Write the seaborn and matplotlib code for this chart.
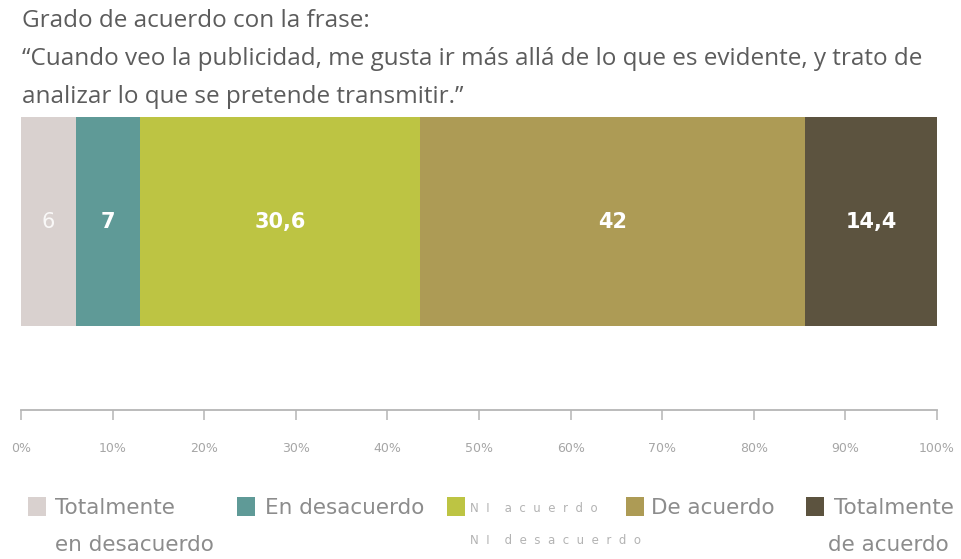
import matplotlib
matplotlib.use("Agg")
import matplotlib.pyplot as plt
from matplotlib.patches import Rectangle
import numpy as np
import pandas as pd
import seaborn as sns

# Survey answers (percent of respondents)
categories = ["Totalmente en desacuerdo", "En desacuerdo", "Ni acuerdo Ni desacuerdo",
              "De acuerdo", "Totalmente de acuerdo"]
values = [6, 7, 30.6, 42, 14.4]
value_labels = ["6", "7", "30,6", "42", "14,4"]
colors = ["#d9d1cf", "#5f9a97", "#bdc443", "#ad9b55", "#5c533f"]
tick_values = list(range(0, 101, 10))
tick_labels = [f"{t}%" for t in tick_values]

sns.set_theme(style="white")
plt.rcParams["font.family"] = ["Open Sans", "DejaVu Sans"]

W, H = 961, 559
fig = plt.figure(figsize=(W / 100, H / 100), dpi=100)
fig.patch.set_facecolor("white")

def fx(px):
    return px / W

def fy(py):
    return 1 - py / H

ax = fig.add_axes([fx(21), fy(410), fx(937) - fx(21), fy(117) - fy(410)])

df = pd.DataFrame({"cat": categories, "value": values})
df["cum"] = df["value"].cumsum()
df["start"] = df["cum"] - df["value"]
df["row"] = "frase"

# Stacked bar: draw cumulative totals from the longest to the shortest
for i in reversed(range(len(df))):
    sns.barplot(data=df.iloc[[i]], x="cum", y="row", color=colors[i], width=0.8,
                saturation=1, linewidth=0, orient="h", ax=ax)

bar_fonts = ["DejaVu Sans"]
for i, r in df.iterrows():
    ax.text(r["start"] + r["value"] / 2, 0, value_labels[i], ha="center", va="center",
            color="white", fontsize=15, fontweight="normal" if i == 0 else "bold",
            family=bar_fonts, alpha=0.85 if i == 0 else 1)

ax.set_xlim(0, 100)
ax.set_ylim(0.7215, -0.4)
ax.set_xticks(tick_values)
ax.set_xticklabels(tick_labels, family=["DejaVu Sans"], fontsize=9, color="#a6a6a6")
ax.set_yticks([])
ax.set_xlabel("")
ax.set_ylabel("")
for side in ["top", "right", "left"]:
    ax.spines[side].set_visible(False)
ax.spines["bottom"].set_color("#b5b5b5")
ax.spines["bottom"].set_linewidth(1.3)
ax.tick_params(axis="x", direction="out", length=7, width=1.1, color="#b5b5b5",
               pad=16, bottom=True)

# Heading
title_color = "#5c5c5c"
title_lines = ["Grado de acuerdo con la frase:",
               "\u201cCuando veo la publicidad, me gusta ir más allá de lo que es evidente, y trato de",
               "analizar lo que se pretende transmitir.\u201d"]
for line, base in zip(title_lines, [27, 65, 103]):
    fig.text(fx(22), fy(base), line, fontsize=17.5, color=title_color,
             va="baseline", ha="left")

# Legend
leg_color = "#8c8c8c"
leg_font = ["DejaVu Sans"]
patch_x = [28, 237, 447, 626, 806]
text_x = [55, 265, 470, 651, 834]
row1 = ["Totalmente", "En desacuerdo", "N  I    a  c  u  e  r  d  o", "De acuerdo", "Totalmente"]
for i in range(len(categories)):
    fig.add_artist(Rectangle((fx(patch_x[i]), fy(516)), fx(18), fy(497) - fy(516),
                             transform=fig.transFigure, color=colors[i], lw=0))
    small = i == 2
    fig.text(fx(text_x[i]), fy(508), row1[i], fontsize=8.5 if small else 15.5,
             color="#b3b3b3" if small else leg_color, family=leg_font,
             va="center", ha="left")
fig.text(fx(55), fy(545), "en desacuerdo", fontsize=15.5, color=leg_color,
         family=leg_font, va="center", ha="left")
fig.text(fx(470), fy(540), "N  I    d  e  s  a  c  u  e  r  d  o", fontsize=8.5,
         color="#b3b3b3", family=leg_font, va="center", ha="left")
fig.text(fx(949), fy(545), "de acuerdo", fontsize=15.5, color=leg_color,
         family=leg_font, va="center", ha="right")

fig.savefig("out.png", dpi=100, facecolor="white")
